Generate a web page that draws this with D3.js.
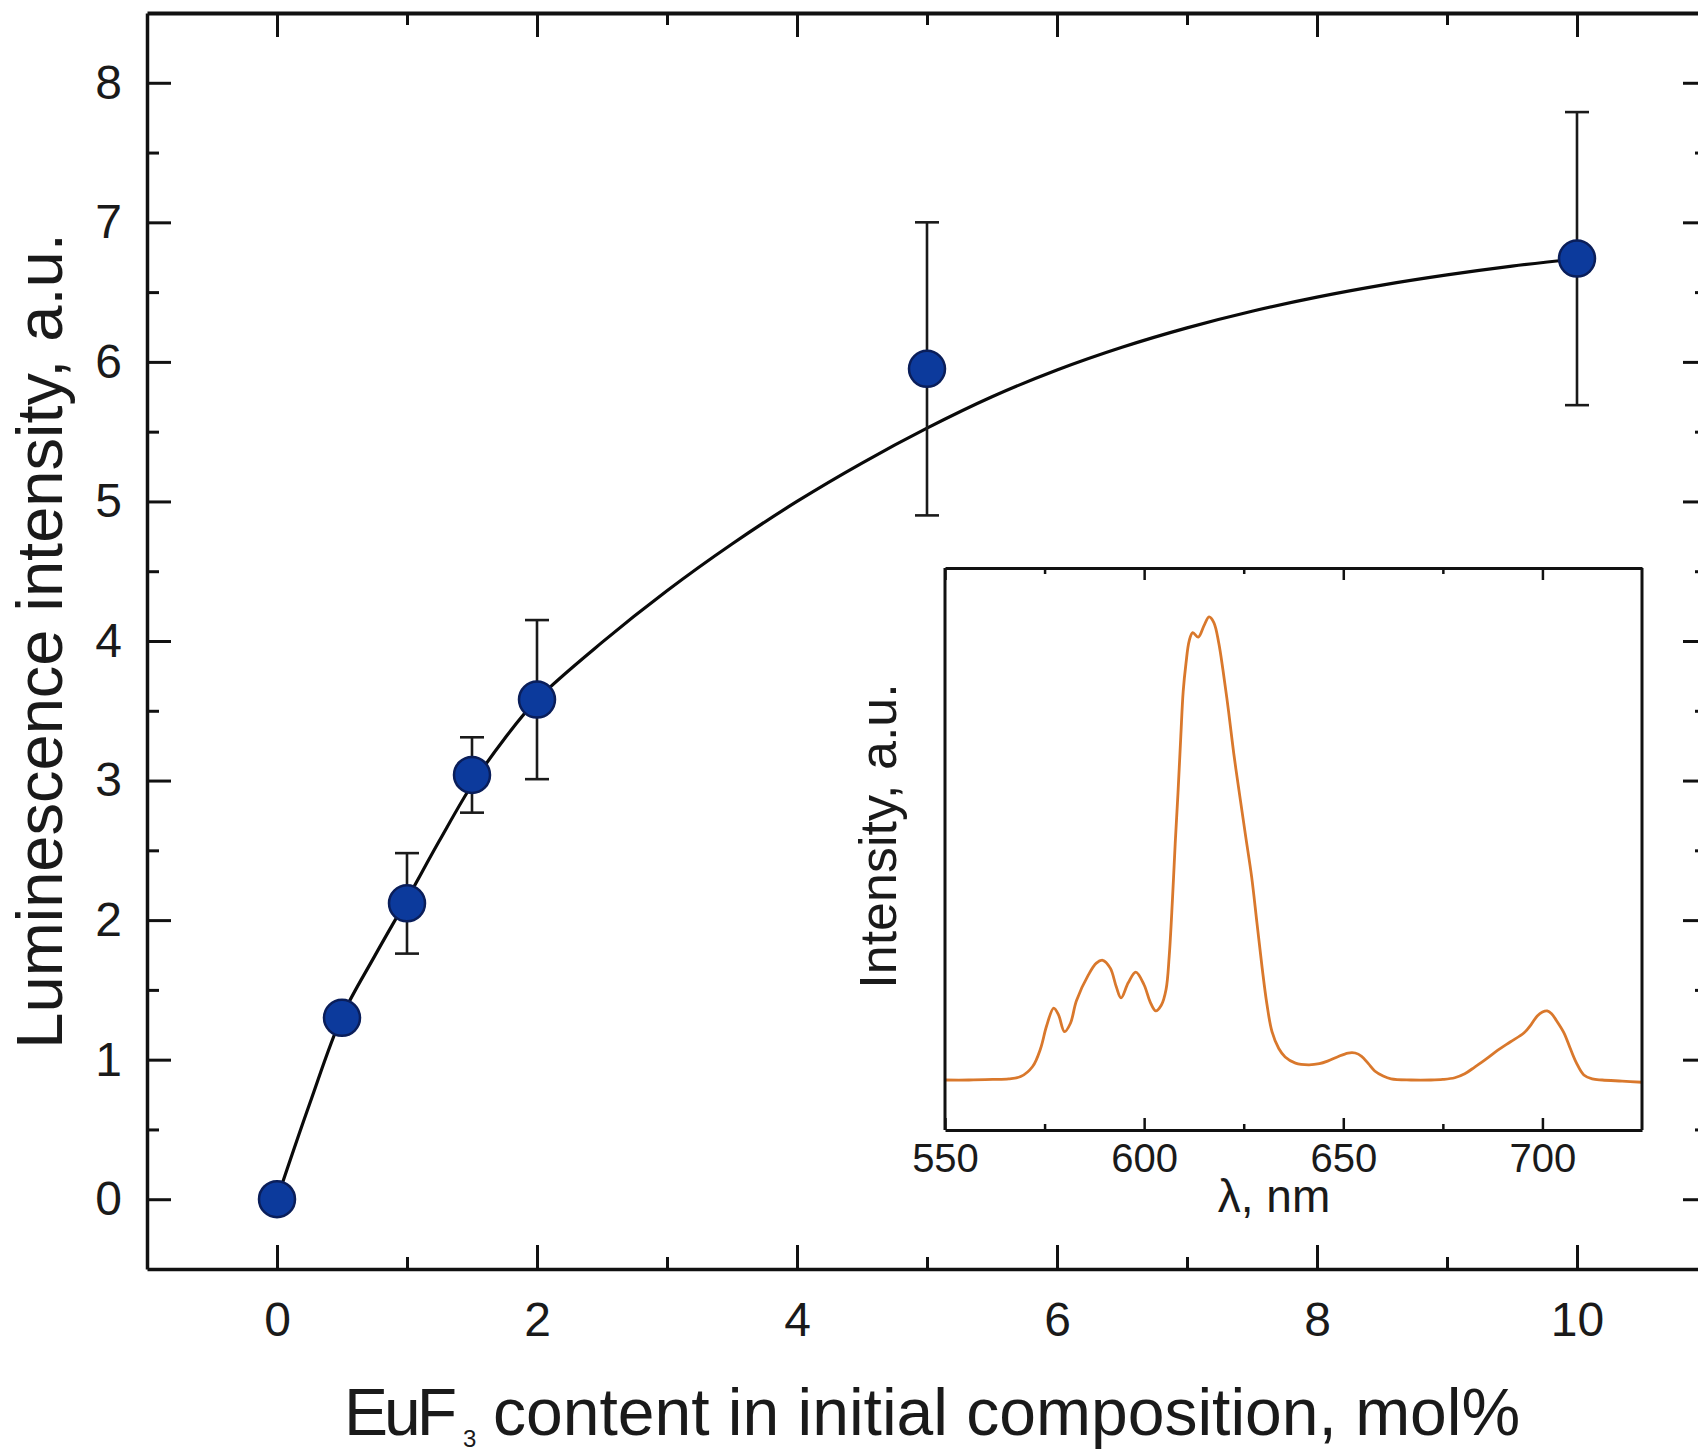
<!DOCTYPE html>
<html>
<head>
<meta charset="utf-8">
<script src="https://cdn.jsdelivr.net/npm/d3@7"></script>
<style>
  html, body { margin: 0; padding: 0; background: #ffffff; }
  svg { display: block; }
  text { font-family: "Liberation Sans", Arial, Helvetica, sans-serif; fill: #1a1a1a; }
</style>
</head>
<body>
<svg id="chart" width="1698" height="1451"></svg>
<script>
// ---- Luminescence vs. EuF3 content ----
const contents    = [0, 0.5, 1, 1.5, 2, 5, 10];
const intensities = [0, 1.30, 2.12, 3.04, 3.58, 5.95, 6.74];
const errors      = [0, 0, 0.36, 0.27, 0.57, 1.05, 1.05];

// saturation fit drawn through the data
const fitX = [0, 0.25, 0.5, 0.75, 1, 1.25, 1.5, 1.75, 2, 2.5, 3, 3.5, 4, 4.5, 5, 5.5, 6, 6.5, 7, 7.5, 8, 8.5, 9, 9.5, 10];
const fitY = [0, 0.68, 1.31, 1.74, 2.15, 2.57, 2.97, 3.30, 3.58, 3.99, 4.36, 4.695, 5.00, 5.275, 5.525, 5.75, 5.942, 6.105, 6.244, 6.363, 6.464, 6.550, 6.623, 6.686, 6.739];

const xMajor = [0, 2, 4, 6, 8, 10];
const xMinor = [1, 3, 5, 7, 9];
const yMajor = [0, 1, 2, 3, 4, 5, 6, 7, 8];
const yMinor = [0.5, 1.5, 2.5, 3.5, 4.5, 5.5, 6.5, 7.5];

// ---- Emission spectrum (inset) ----
const wavelengths = [550, 556, 562, 566, 569, 572, 574, 575.5, 577.3, 578.5, 580, 581.5, 583, 586, 588, 589.6,
  591.5, 593, 594.2, 596, 597.9, 600, 601.5, 602.9, 604.3, 605.5, 606.3, 607.1, 607.8, 608.5, 609.2, 609.8,
  610.5, 611.3, 612.2, 613.6, 615, 616.3, 617.5, 618.7, 619.8, 621.2, 622.5, 624, 625.5, 627, 628.3, 629.6,
  630.8, 632.1, 633.8, 635.4, 638, 641.3, 644, 646.2, 648.5, 651.2, 653, 654.6, 656.3, 657.9, 660, 662, 667,
  672, 675, 678, 680.5, 683, 686, 688.8, 692, 695.4, 697.2, 698.7, 700, 701.2, 702.3, 703.5, 705.4, 707,
  708.5, 710.4, 712.5, 715, 720, 725];
const spectrum = [0.089, 0.089, 0.090, 0.091, 0.095, 0.113, 0.145, 0.185, 0.217, 0.205, 0.175, 0.190, 0.230, 0.276, 0.297, 0.302,
  0.288, 0.255, 0.235, 0.262, 0.281, 0.258, 0.228, 0.212, 0.222, 0.250, 0.310, 0.409, 0.510, 0.600, 0.700, 0.780,
  0.830, 0.870, 0.885, 0.877, 0.897, 0.913, 0.903, 0.868, 0.818, 0.745, 0.670, 0.595, 0.522, 0.450, 0.370, 0.290,
  0.225, 0.175, 0.145, 0.130, 0.119, 0.116, 0.118, 0.123, 0.130, 0.137, 0.137, 0.131, 0.118, 0.105, 0.096, 0.091, 0.089,
  0.089, 0.090, 0.093, 0.100, 0.112, 0.127, 0.142, 0.157, 0.173, 0.188, 0.203, 0.210, 0.212, 0.207, 0.195, 0.173, 0.145,
  0.120, 0.098, 0.091, 0.089, 0.087, 0.085];
const insetMajor = [550, 600, 650, 700];
const insetMinor = [575, 625, 675];

const svg = d3.select("#chart");

// ---- main scales ----
const plot = { left: 147, right: 1707, top: 13, bottom: 1269 };
const x = d3.scaleLinear().domain([-1, 11]).range([plot.left, plot.right]);
const y = d3.scaleLinear().domain([-0.5, 8.5]).range([plot.bottom, plot.top]);

const MAJ = 24, MIN = 12;
function styleAxis(g, width) {
  g.select(".domain").attr("stroke", "#111").attr("stroke-width", width);
  g.selectAll(".tick line").attr("stroke", "#111").attr("stroke-width", 3);
}
function minorTicks(g, w) {
  g.select(".domain").remove();
  g.selectAll("line").attr("stroke", "#111").attr("stroke-width", w);
}

// bottom axis with labels
const gB = svg.append("g").attr("transform", `translate(0,${plot.bottom})`)
  .call(d3.axisBottom(x).tickValues(xMajor).tickSizeInner(-MAJ).tickSizeOuter(0).tickPadding(33).tickFormat(d3.format("d")));
gB.selectAll("text").attr("font-size", 48).attr("fill", "#1a1a1a");
styleAxis(gB, 3.5);
svg.append("g").attr("transform", `translate(0,${plot.bottom})`)
  .call(d3.axisBottom(x).tickValues(xMinor).tickSize(-MIN).tickFormat(""))
  .call(g => minorTicks(g, 3));

// top frame
const gT = svg.append("g").attr("transform", `translate(0,${plot.top})`)
  .call(d3.axisTop(x).tickValues(xMajor).tickSizeInner(-MAJ).tickSizeOuter(0).tickFormat(""));
styleAxis(gT, 4);
svg.append("g").attr("transform", `translate(0,${plot.top})`)
  .call(d3.axisTop(x).tickValues(xMinor).tickSize(-MIN).tickFormat(""))
  .call(g => minorTicks(g, 3));

// left axis with labels
const gL = svg.append("g").attr("transform", `translate(${plot.left},0)`)
  .call(d3.axisLeft(y).tickValues(yMajor).tickSizeInner(-MAJ).tickSizeOuter(0).tickPadding(25).tickFormat(d3.format("d")));
gL.selectAll("text").attr("font-size", 48).attr("fill", "#1a1a1a");
styleAxis(gL, 3.5);
svg.append("g").attr("transform", `translate(${plot.left},0)`)
  .call(d3.axisLeft(y).tickValues(yMinor).tickSize(-MIN).tickFormat(""))
  .call(g => minorTicks(g, 3));

// right frame
const gR = svg.append("g").attr("transform", `translate(${plot.right},0)`)
  .call(d3.axisRight(y).tickValues(yMajor).tickSizeInner(-MAJ).tickSizeOuter(0).tickFormat(""));
styleAxis(gR, 3.5);
svg.append("g").attr("transform", `translate(${plot.right},0)`)
  .call(d3.axisRight(y).tickValues(yMinor).tickSize(-MIN).tickFormat(""))
  .call(g => minorTicks(g, 3));

// axis titles
svg.append("text")
  .attr("transform", `translate(62,${(plot.top + plot.bottom) / 2}) rotate(-90)`)
  .attr("text-anchor", "middle")
  .attr("font-size", 65)
  .text("Luminescence intensity, a.u.");

const xt = svg.append("text").attr("y", 1435).attr("font-size", 66);
xt.append("tspan").attr("x", 344).attr("letter-spacing", -4).text("EuF");
xt.append("tspan").attr("x", 463).attr("dy", 12).attr("font-size", 24).text("3");
xt.append("tspan").attr("x", 493).attr("dy", -12).text("content in initial composition, mol%");

// fit curve
const fitLine = d3.line().x(d => x(d[0])).y(d => y(d[1])).curve(d3.curveCatmullRom.alpha(0.5));
svg.append("path")
  .datum(fitX.map((v, i) => [v, fitY[i]]))
  .attr("d", fitLine)
  .attr("fill", "none").attr("stroke", "#0a0a0a").attr("stroke-width", 3.2);

// error bars
const pts = contents.map((c, i) => ({ c, v: intensities[i], e: errors[i] }));
const eb = svg.append("g").attr("stroke", "#1a1a1a").attr("stroke-width", 2.6);
pts.filter(d => d.e > 0).forEach(d => {
  eb.append("line").attr("x1", x(d.c)).attr("x2", x(d.c)).attr("y1", y(d.v - d.e)).attr("y2", y(d.v + d.e));
  [d.v - d.e, d.v + d.e].forEach(t =>
    eb.append("line").attr("x1", x(d.c) - 12).attr("x2", x(d.c) + 12).attr("y1", y(t)).attr("y2", y(t)));
});

// data points
svg.append("g").selectAll("circle").data(pts).join("circle")
  .attr("cx", d => x(d.c)).attr("cy", d => y(d.v)).attr("r", 18)
  .attr("fill", "#0c3a9c").attr("stroke", "#0a1e5a").attr("stroke-width", 2.5);

// ---- inset: emission spectrum ----
const inset = { left: 945, right: 1642, top: 568, bottom: 1130 };
const xi = d3.scaleLinear().domain([550, 725]).range([inset.left, inset.right]);
const yi = d3.scaleLinear().domain([0, 1]).range([inset.bottom, inset.top]);

svg.append("rect")
  .attr("x", inset.left).attr("y", inset.top)
  .attr("width", inset.right - inset.left).attr("height", inset.bottom - inset.top)
  .attr("fill", "#fff");

const specLine = d3.line().x(d => xi(d[0])).y(d => yi(d[1])).curve(d3.curveCatmullRom.alpha(0.5));
svg.append("path")
  .datum(wavelengths.map((w, i) => [w, spectrum[i]]))
  .attr("d", specLine)
  .attr("fill", "none").attr("stroke", "#d9782c").attr("stroke-width", 2.8);

const giB = svg.append("g").attr("transform", `translate(0,${inset.bottom})`)
  .call(d3.axisBottom(xi).tickValues(insetMajor).tickSizeInner(-12).tickSizeOuter(0).tickPadding(14).tickFormat(d3.format("d")));
giB.selectAll("text").attr("font-size", 40).attr("fill", "#1a1a1a");
styleAxis(giB, 3);
giB.selectAll(".tick line").attr("stroke-width", 2.5);
svg.append("g").attr("transform", `translate(0,${inset.bottom})`)
  .call(d3.axisBottom(xi).tickValues(insetMinor).tickSize(-6).tickFormat(""))
  .call(g => minorTicks(g, 2.5));

const giT = svg.append("g").attr("transform", `translate(0,${inset.top})`)
  .call(d3.axisTop(xi).tickValues(insetMajor).tickSizeInner(-12).tickSizeOuter(0).tickFormat(""));
styleAxis(giT, 3);
giT.selectAll(".tick line").attr("stroke-width", 2.5);
svg.append("g").attr("transform", `translate(0,${inset.top})`)
  .call(d3.axisTop(xi).tickValues(insetMinor).tickSize(-6).tickFormat(""))
  .call(g => minorTicks(g, 2.5));

svg.append("line").attr("x1", inset.left).attr("x2", inset.left).attr("y1", inset.top).attr("y2", inset.bottom)
  .attr("stroke", "#111").attr("stroke-width", 3);
svg.append("line").attr("x1", inset.right).attr("x2", inset.right).attr("y1", inset.top).attr("y2", inset.bottom)
  .attr("stroke", "#111").attr("stroke-width", 3);

svg.append("text")
  .attr("x", 1274).attr("y", 1212)
  .attr("text-anchor", "middle").attr("font-size", 46)
  .text("\u03bb, nm");

svg.append("text")
  .attr("transform", `translate(896,836) rotate(-90)`)
  .attr("text-anchor", "middle").attr("font-size", 52)
  .text("Intensity, a.u.");
</script>
</body>
</html>
